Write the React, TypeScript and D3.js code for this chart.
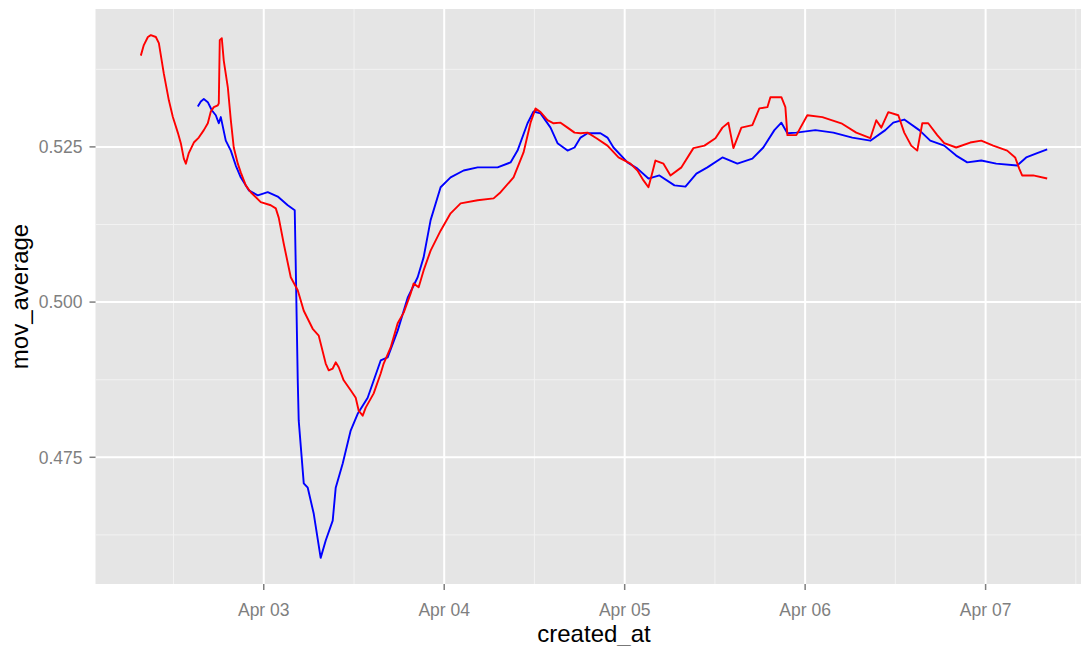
import React from "react";
import * as d3 from "d3";

// Time is given in hours since Apr 02 00:00
const BASE = Date.UTC(2013, 3, 2);

const redHours = [7.65, 8.05, 8.59, 8.98, 9.65, 10.05, 10.71, 11.38, 11.91, 12.57, 12.97, 13.37, 13.64, 14.03, 14.7, 15.36, 16.03, 16.56, 16.96, 17.36, 17.89, 18.02, 18.15, 18.42, 18.68, 19.22, 19.62, 20.01, 20.55, 20.94, 21.61, 22.27, 23.6, 24.93, 25.6, 25.99, 26.66, 27.59, 28.52, 29.32, 30.51, 31.31, 32.24, 32.64, 33.17, 33.57, 33.97, 34.63, 35.56, 36.23, 36.63, 37.16, 37.56, 38.62, 39.55, 39.95, 40.88, 41.81, 42.61, 43.54, 43.93, 44.6, 45.26, 46.19, 47.52, 48.85, 50.18, 52.44, 54.57, 55.5, 57.22, 58.55, 59.48, 60.15, 60.81, 61.74, 62.54, 63.47, 64.4, 65.33, 66.13, 67.06, 68.25, 69.71, 71.18, 72.77, 73.7, 74.5, 75.16, 75.69, 76.09, 77.16, 78.09, 79.55, 81.14, 82.61, 84.07, 85.0, 85.79, 86.46, 87.52, 88.98, 89.91, 90.98, 91.38, 92.84, 93.37, 93.64, 94.83, 96.29, 98.29, 100.81, 102.8, 104.67, 105.46, 106.13, 107.06, 108.39, 109.18, 110.11, 110.91, 111.58, 112.37, 113.57, 114.5, 116.09, 117.95, 119.42, 121.01, 122.87, 123.93, 124.47, 124.86, 126.33, 128.19];
const redValues = [0.5397, 0.5414, 0.5427, 0.543, 0.5427, 0.5417, 0.5368, 0.5325, 0.5298, 0.5273, 0.5256, 0.5231, 0.5223, 0.524, 0.5257, 0.5265, 0.5277, 0.5288, 0.5307, 0.5314, 0.5317, 0.532, 0.5422, 0.5425, 0.5389, 0.5346, 0.5293, 0.5249, 0.5223, 0.5209, 0.5188, 0.5177, 0.5161, 0.5156, 0.5151, 0.5136, 0.5094, 0.504, 0.5019, 0.4986, 0.4957, 0.4946, 0.4901, 0.489, 0.4893, 0.4903, 0.4895, 0.4874, 0.4858, 0.4846, 0.4825, 0.4817, 0.483, 0.4853, 0.4885, 0.4901, 0.4927, 0.4966, 0.4983, 0.5014, 0.503, 0.5024, 0.5051, 0.5083, 0.5115, 0.5143, 0.5159, 0.5164, 0.5167, 0.5177, 0.5201, 0.5241, 0.5289, 0.5312, 0.5306, 0.5293, 0.5288, 0.5289, 0.5281, 0.5273, 0.5272, 0.5273, 0.5264, 0.5252, 0.5233, 0.5223, 0.5212, 0.5196, 0.5185, 0.5209, 0.5228, 0.5223, 0.5204, 0.5217, 0.5248, 0.5252, 0.5264, 0.5281, 0.5289, 0.5248, 0.5281, 0.5285, 0.5312, 0.5314, 0.533, 0.533, 0.5314, 0.5269, 0.5269, 0.5301, 0.5298, 0.5288, 0.5273, 0.5264, 0.5293, 0.5281, 0.5306, 0.5301, 0.5273, 0.5252, 0.5244, 0.5288, 0.5288, 0.5269, 0.5256, 0.5249, 0.5257, 0.526, 0.5252, 0.5244, 0.5233, 0.5215, 0.5204, 0.5204, 0.5199];

const blueHours = [15.23, 15.63, 16.03, 16.56, 17.09, 17.62, 18.02, 18.29, 18.95, 19.62, 20.28, 20.94, 22.01, 23.2, 24.53, 25.86, 27.19, 28.12, 28.25, 28.52, 28.65, 29.32, 29.85, 30.65, 31.57, 32.24, 33.17, 33.57, 34.5, 35.56, 36.49, 37.82, 39.55, 40.48, 41.81, 43.14, 44.47, 45.26, 46.19, 47.52, 48.85, 50.58, 52.44, 55.1, 56.82, 57.75, 59.08, 59.88, 60.81, 62.14, 63.07, 64.4, 65.33, 66.13, 67.06, 68.78, 69.71, 70.51, 72.37, 73.7, 75.16, 76.62, 78.62, 80.08, 81.54, 83.0, 85.0, 86.99, 88.98, 90.44, 91.91, 92.84, 93.64, 94.83, 97.36, 99.75, 102.27, 104.67, 106.66, 107.72, 109.18, 111.18, 112.64, 114.5, 116.09, 117.56, 119.42, 121.41, 124.2, 125.4, 126.86, 128.19];
const blueValues = [0.5315, 0.5323, 0.5327, 0.5322, 0.5309, 0.5301, 0.5288, 0.5298, 0.526, 0.5244, 0.522, 0.5201, 0.518, 0.5172, 0.5177, 0.517, 0.5156, 0.5148, 0.5062, 0.4874, 0.4809, 0.4708, 0.4701, 0.4659, 0.4588, 0.4616, 0.4648, 0.4701, 0.474, 0.4793, 0.482, 0.4846, 0.4906, 0.4911, 0.4954, 0.5007, 0.504, 0.5072, 0.5132, 0.5185, 0.5201, 0.5212, 0.5217, 0.5217, 0.5225, 0.5244, 0.5288, 0.5307, 0.5304, 0.5281, 0.5256, 0.5244, 0.5249, 0.5265, 0.5272, 0.5272, 0.5265, 0.5249, 0.5225, 0.5215, 0.5199, 0.5204, 0.5188, 0.5186, 0.5207, 0.5217, 0.5233, 0.5223, 0.5231, 0.5249, 0.5277, 0.5289, 0.5272, 0.5273, 0.5277, 0.5273, 0.5265, 0.526, 0.5277, 0.5289, 0.5294, 0.5277, 0.526, 0.5252, 0.5236, 0.5225, 0.5228, 0.5223, 0.522, 0.5233, 0.524, 0.5246];

const yMajorTicks = [0.475, 0.5, 0.525];
const yMinorTicks = [0.4625, 0.4875, 0.5125, 0.5375];
const xTitle = "created_at";
const yTitle = "mov_average";

type Pt = { t: Date; v: number };

export default function App() {
  const W = 1081;
  const H = 646;
  const P = { left: 95.5, right: 1092.5, top: 9, bottom: 584 };

  const red: Pt[] = redHours.map((h, i) => ({ t: new Date(BASE + h * 3600e3), v: redValues[i] }));
  const blue: Pt[] = blueHours.map((h, i) => ({ t: new Date(BASE + h * 3600e3), v: blueValues[i] }));
  const all = [...red, ...blue];

  const [t0, t1] = d3.extent(all, (d) => +d.t) as [number, number];
  const tp = (t1 - t0) * 0.05;
  const [v0, v1] = d3.extent(all, (d) => d.v) as [number, number];
  const vp = (v1 - v0) * 0.05;

  const x = d3.scaleUtc().domain([new Date(t0 - tp), new Date(t1 + tp)]).range([P.left, P.right]);
  const y = d3.scaleLinear().domain([v0 - vp, v1 + vp]).range([P.bottom, P.top]);

  const majorX = x.ticks(d3.utcDay.every(1) as any);
  const minorX = d3.utcHours(x.domain()[0], x.domain()[1]).filter((d) => d.getUTCHours() === 12);
  const fmt = d3.utcFormat("%b %d");

  const line = d3
    .line<Pt>()
    .x((d) => x(d.t))
    .y((d) => y(d.v));

  const font = "'Liberation Sans', Arial, Helvetica, sans-serif";

  return (
    <svg
      width={W}
      height={H}
      style={{ position: "absolute", left: 0, top: 0, background: "#fff" }}
      fontFamily={font}
    >
      <defs>
        <clipPath id="panel">
          <rect x={P.left} y={P.top} width={P.right - P.left} height={P.bottom - P.top} />
        </clipPath>
      </defs>
      <rect x={P.left} y={P.top} width={P.right - P.left} height={P.bottom - P.top} fill="#E5E5E5" />
      <g clipPath="url(#panel)">
        {minorX.map((d, i) => (
          <line key={"mx" + i} x1={x(d)} x2={x(d)} y1={P.top} y2={P.bottom} stroke="#F2F2F2" strokeWidth={1} />
        ))}
        {yMinorTicks.map((d, i) => (
          <line key={"my" + i} x1={P.left} x2={P.right} y1={y(d)} y2={y(d)} stroke="#F2F2F2" strokeWidth={1} />
        ))}
        {majorX.map((d, i) => (
          <line key={"Mx" + i} x1={x(d)} x2={x(d)} y1={P.top} y2={P.bottom} stroke="#FFFFFF" strokeWidth={2} />
        ))}
        {yMajorTicks.map((d, i) => (
          <line key={"My" + i} x1={P.left} x2={P.right} y1={y(d)} y2={y(d)} stroke="#FFFFFF" strokeWidth={2} />
        ))}
        <path d={line(blue) || ""} fill="none" stroke="#0000FF" strokeWidth={1.9} strokeLinejoin="round" />
        <path d={line(red) || ""} fill="none" stroke="#FF0000" strokeWidth={1.9} strokeLinejoin="round" />
      </g>
      {/* y axis */}
      {yMajorTicks.map((d, i) => (
        <g key={"yt" + i}>
          <line x1={P.left - 6} x2={P.left} y1={y(d)} y2={y(d)} stroke="#7F7F7F" strokeWidth={1.5} />
          <text x={P.left - 13} y={y(d)} dy="0.36em" textAnchor="end" fontSize={17.5} fill="#7F7F7F">
            {d3.format(".3f")(d)}
          </text>
        </g>
      ))}
      {/* x axis */}
      {majorX.map((d, i) => (
        <g key={"xt" + i}>
          <line x1={x(d)} x2={x(d)} y1={P.bottom} y2={P.bottom + 6} stroke="#7F7F7F" strokeWidth={1.5} />
          <text x={x(d)} y={P.bottom + 32} textAnchor="middle" fontSize={17.5} fill="#7F7F7F">
            {fmt(d)}
          </text>
        </g>
      ))}
      <text x={(P.left + P.right) / 2} y={642} textAnchor="middle" fontSize={24} fill="#000">
        {xTitle}
      </text>
      <text
        transform={`translate(28, ${(P.top + P.bottom) / 2}) rotate(-90)`}
        textAnchor="middle"
        fontSize={24}
        fill="#000"
      >
        {yTitle}
      </text>
    </svg>
  );
}
